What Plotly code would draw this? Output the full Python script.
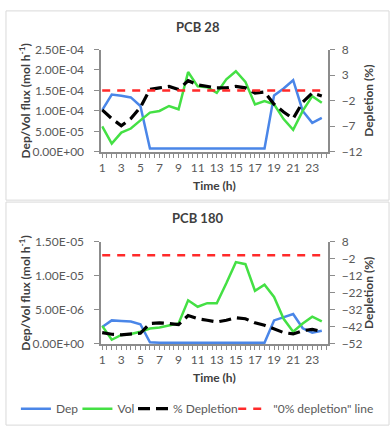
import plotly.graph_objects as go
from plotly.subplots import make_subplots

hours = list(range(1, 25))

# PCB 28
dep_28 = [1.02e-4, 1.40e-4, 1.37e-4, 1.33e-4, 1.12e-4, 8e-6, 8e-6, 8e-6, 9e-6, 8e-6,
          8e-6, 8e-6, 8e-6, 8e-6, 8e-6, 8e-6, 8e-6, 8e-6, 1.38e-4, 1.55e-4,
          1.75e-4, 1.00e-4, 0.71e-4, 0.83e-4]
vol_28 = [0.62e-4, 0.20e-4, 0.47e-4, 0.57e-4, 0.77e-4, 0.96e-4, 1.00e-4, 1.12e-4, 1.04e-4, 1.95e-4,
          1.60e-4, 1.58e-4, 1.44e-4, 1.77e-4, 1.97e-4, 1.71e-4, 1.16e-4, 1.24e-4, 1.16e-4, 0.80e-4,
          0.54e-4, 1.00e-4, 1.36e-4, 1.20e-4]
depl_28 = [-3.8, -5.5, -6.9, -5.5, -3.3, 0.2, 0.5, 0.8, 0.2, 1.9,
           1.1, 0.8, 0.5, 0.5, 0.8, 0.5, -0.5, -0.3, -2.7, -4.2,
           -5.5, -2.3, -0.5, -1.1]

# PCB 180
dep_180 = [2.5e-6, 3.46e-6, 3.37e-6, 3.3e-6, 2.9e-6, 0.24e-6, 0.2e-6, 0.2e-6, 0.2e-6, 0.2e-6,
           0.2e-6, 0.2e-6, 0.2e-6, 0.2e-6, 0.2e-6, 0.2e-6, 0.2e-6, 0.2e-6, 3.46e-6, 3.9e-6,
           4.4e-6, 2.3e-6, 1.66e-6, 1.95e-6]
vol_180 = [2.66e-6, 0.62e-6, 1.33e-6, 1.47e-6, 1.8e-6, 2.28e-6, 2.42e-6, 2.75e-6, 3.0e-6, 6.4e-6,
           5.46e-6, 5.98e-6, 5.98e-6, 8.9e-6, 12.0e-6, 11.7e-6, 7.8e-6, 8.7e-6, 6.9e-6, 3.7e-6,
           1.8e-6, 3.0e-6, 4.0e-6, 3.3e-6]
depl_180 = [-45.3, -46.3, -46.6, -46.3, -45.7, -40.0, -39.6, -40.0, -40.6, -35.3,
            -37.2, -38.1, -39.1, -38.1, -36.6, -37.2, -39.6, -41.0, -43.4, -45.3,
            -46.1, -44.2, -43.4, -44.6]
zero_line = [0] * 24

left_ticks_28 = [0, 5e-5, 1e-4, 1.5e-4, 2e-4, 2.5e-4]
left_ticks_180 = [0, 5e-6, 1e-5, 1.5e-5]
x_labels = list(range(1, 24, 2))

BLUE = "#4a86e8"
GREEN = "#44e044"
RED = "#ff2a2a"
TXT = "#595959"
TITLE = "#404040"
AX = "#8c8c8c"
FONT = "Lato"

fig = make_subplots(rows=2, cols=1, specs=[[{"secondary_y": True}], [{"secondary_y": True}]])

panels = [(1, dep_28, vol_28, depl_28), (2, dep_180, vol_180, depl_180)]
for row, dep, vol, depl in panels:
    show = row == 2
    fig.add_trace(go.Scatter(x=hours, y=dep, name="Dep", mode="lines", legend="legend",
                             line=dict(color=BLUE, width=2.5), showlegend=show),
                  row=row, col=1, secondary_y=False)
    fig.add_trace(go.Scatter(x=hours, y=vol, name="Vol", mode="lines", legend="legend2",
                             line=dict(color=GREEN, width=2.5), showlegend=show),
                  row=row, col=1, secondary_y=False)
    fig.add_trace(go.Scatter(x=hours, y=depl, name="% Depletion", mode="lines", legend="legend3",
                             line=dict(color="black", width=3.2, dash="12px,6px"), showlegend=show),
                  row=row, col=1, secondary_y=True)
    fig.add_trace(go.Scatter(x=hours, y=zero_line, name='"0% depletion" line', mode="lines",
                             legend="legend4",
                             line=dict(color=RED, width=2.5, dash="8px,7px"), showlegend=show),
                  row=row, col=1, secondary_y=True)

xcommon = dict(range=[0.9, 24.7], showline=True, linecolor=AX, linewidth=1.5,
               tickmode="array", tickvals=x_labels, ticks="outside", ticklen=4, tickcolor=AX,
               minor=dict(tickmode="array", tickvals=[h / 2 for h in range(2, 50)],
                          ticks="outside", ticklen=4, tickcolor=AX),
               showgrid=False, zeroline=False,
               tickfont=dict(family=FONT, size=12, color=TXT))
fig.update_xaxes(**xcommon)

ycommon = dict(showline=True, linecolor=AX, linewidth=1.5, ticks="outside", ticklen=5,
               tickcolor=AX, showgrid=False, zeroline=False,
               tickfont=dict(family=FONT, size=12, color=TXT))

fig.update_yaxes(row=1, col=1, secondary_y=False, range=[0, 2.5e-4], tickmode="array",
                 tickvals=left_ticks_28, ticktext=[f"{v:.2E}" for v in left_ticks_28],
                 ticklabelstandoff=8, **ycommon)
fig.update_yaxes(row=2, col=1, secondary_y=False, range=[0, 1.5e-5], tickmode="array",
                 tickvals=left_ticks_180, ticktext=[f"{v:.2E}" for v in left_ticks_180],
                 ticklabelstandoff=8, **ycommon)
fig.update_yaxes(row=1, col=1, secondary_y=True, range=[-12, 8], tick0=8, dtick=5,
                 ticklabelstandoff=4, **ycommon)
fig.update_yaxes(row=2, col=1, secondary_y=True, range=[-52, 8], tick0=8, dtick=10,
                 ticklabelstandoff=4, **ycommon)

W, H = 392, 435
fig.update_layout(
    xaxis=dict(domain=[99 / W, 328 / W]),
    xaxis2=dict(domain=[99 / W, 328 / W]),
    yaxis=dict(domain=[1 - 149 / H, 1 - 43 / H]),
    yaxis2=dict(domain=[1 - 149 / H, 1 - 43 / H]),
    yaxis3=dict(domain=[1 - 348 / H, 1 - 242 / H]),
    yaxis4=dict(domain=[1 - 348 / H, 1 - 242 / H]),
)

annos = [
    dict(text="<b>PCB 28</b>", x=196 / W, y=1 - 20 / H, size=13),
    dict(text="<b>PCB 180</b>", x=196 / W, y=1 - 218 / H, size=13),
    dict(text="<b>Time (h)</b>", x=213 / W, y=1 - 184 / H, size=12),
    dict(text="<b>Time (h)</b>", x=213 / W, y=1 - 383 / H, size=12),
]
for a in annos:
    fig.add_annotation(text=a["text"], x=a["x"], y=a["y"], xref="paper", yref="paper",
                       showarrow=False, xanchor="center", yanchor="middle",
                       font=dict(family=FONT, size=a["size"], color=TITLE))
for yc in [96, 295]:
    fig.add_annotation(text="<b>Dep/Vol flux (mol h<sup>-1</sup>)</b>", x=22 / W, y=1 - yc / H,
                       xref="paper", yref="paper", showarrow=False, textangle=-90,
                       xanchor="center", yanchor="middle",
                       font=dict(family=FONT, size=12, color=TITLE))
    fig.add_annotation(text="<b>Depletion (%)</b>", x=369 / W, y=1 - yc / H,
                       xref="paper", yref="paper", showarrow=False, textangle=-90,
                       xanchor="center", yanchor="middle",
                       font=dict(family=FONT, size=12, color=TITLE))

# chart area borders
for y0, y1 in [(3, 199), (201, 432)]:
    fig.add_shape(type="rect", xref="paper", yref="paper", x0=3 / W, x1=389 / W,
                  y0=1 - y1 / H, y1=1 - y0 / H, line=dict(color="#d9d9d9", width=1))

leg = dict(orientation="h", y=1 - 415 / H, xanchor="left", yanchor="middle",
           font=dict(family=FONT, size=12, color=TXT), itemwidth=30,
           bgcolor="rgba(0,0,0,0)")
fig.update_layout(
    width=W, height=H,
    margin=dict(l=0, r=0, t=0, b=0),
    plot_bgcolor="white", paper_bgcolor="white",
    font=dict(family=FONT, size=12, color=TXT),
    legend=dict(leg, x=(25 - 12) / W),
    legend2=dict(leg, x=(87 - 12) / W),
    legend3=dict(leg, x=(143 - 12) / W),
    legend4=dict(leg, x=(244 - 12) / W),
)

fig.write_html("out.html", config={"displayModeBar": False},
               post_script="document.body.style.margin='0';")
